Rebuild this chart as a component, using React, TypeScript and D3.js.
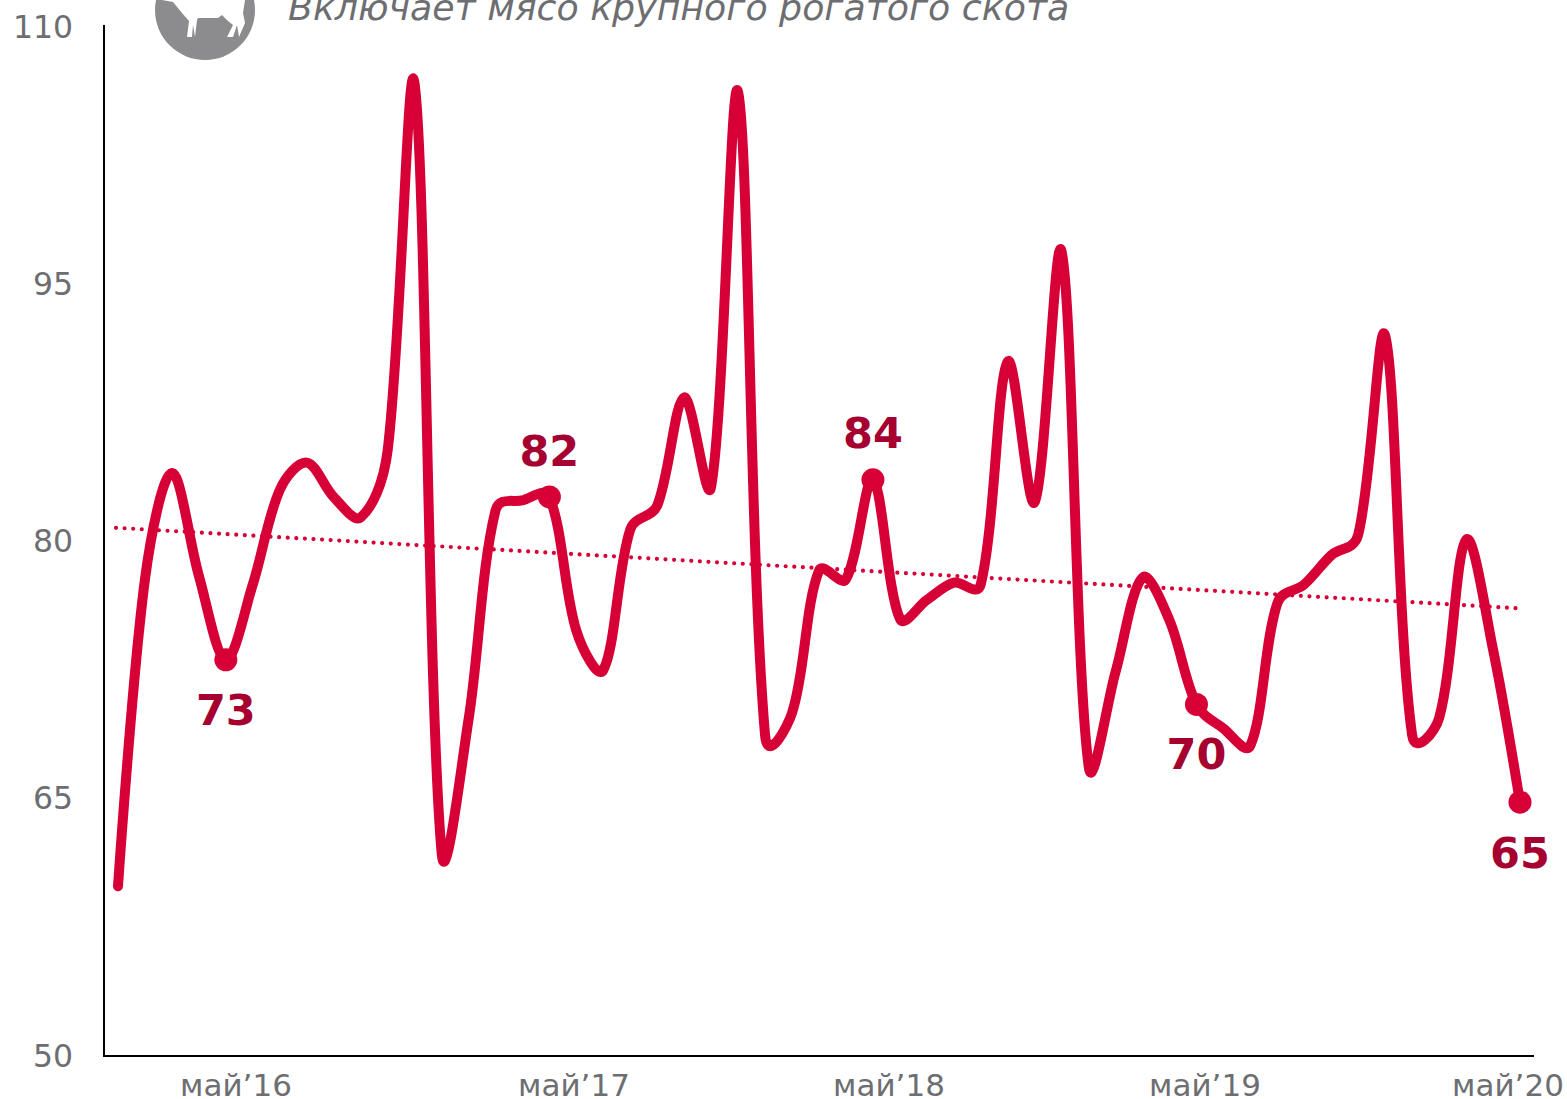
import React from 'react';
import * as d3 from 'd3';

// --- DATA ---
// monthly values, Jan 2016 .. May 2020
const values = [
  59.9, 77.8, 84, 78, 73.1, 77.5, 83, 84.6, 82.6, 81.4, 85.3, 106.7,
  61.9, 69.6, 81.8, 82.4, 82.6, 74.8, 72.5, 80.7, 82.1, 88.4, 83.2, 106.2,
  68.7, 70, 78.3, 77.8, 83.6, 75.5, 76.6, 77.6, 77.5, 90.5, 82.3, 96.9,
  66.9, 72.4, 77.9, 75.4, 70.5, 69.1, 68.1, 76.4, 77.5, 79.2, 80.4, 92,
  68.7, 69.7, 80.1, 73.7, 64.8,
];
const trendValues = [80.8, 76.1];
const yTicks = [50, 65, 80, 95, 110];
const xTicks = [
  { label: 'май’16', x: 236 },
  { label: 'май’17', x: 574 },
  { label: 'май’18', x: 889 },
  { label: 'май’19', x: 1205 },
  { label: 'май’20', x: 1508 },
];
const callouts = [
  { month: 4, label: '73', dy: 65 },
  { month: 16, label: '82', dy: -31 },
  { month: 28, label: '84', dy: -32 },
  { month: 40, label: '70', dy: 65 },
  { month: 52, label: '65', dy: 66 },
];
const subtitle = 'Включает мясо крупного рогатого скота';

const RED = '#d70036';
const DARK_RED = '#a50030';
const GREY = '#6d6e71';
const FONT = '"DejaVu Sans", sans-serif';

const x = d3.scaleLinear().domain([0, values.length - 1]).range([118, 1520]);
const y = d3.scaleLinear().domain([50, 110]).range([1056, 27]);

// Spreadsheet-style smoothing: tangent follows the neighbours, handle length follows the chord
function smoothPath(points: [number, number][]) {
  const path = d3.path();
  const dist = (a: [number, number], b: [number, number]) => Math.hypot(a[0] - b[0], a[1] - b[1]);
  const handle = (i: number, side: 1 | -1): [number, number] => {
    const p = points[i];
    const prev = points[i - 1];
    const next = points[i + 1];
    if (!prev || !next) return p;
    const dPrev = dist(prev, p);
    const dNext = dist(p, next);
    const ratio = (side === 1 ? dNext : dPrev) / (dPrev + dNext);
    const k = (0.8 * ratio + 0.1) / 3;
    return [p[0] + side * k * (next[0] - prev[0]), p[1] + side * k * (next[1] - prev[1])];
  };
  path.moveTo(points[0][0], points[0][1]);
  for (let i = 0; i < points.length - 1; i++) {
    const a = handle(i, 1);
    const b = handle(i + 1, -1);
    path.bezierCurveTo(a[0], a[1], b[0], b[1], points[i + 1][0], points[i + 1][1]);
  }
  return path.toString();
}

const linePath = smoothPath(values.map((v, i) => [x(i), y(v)] as [number, number]));

export default function App() {
  return (
    <svg
      width={1567}
      height={1099}
      style={{ position: 'absolute', left: 0, top: 0, background: '#fff' }}
      fontFamily={FONT}
    >
      {/* icon, cut off by the top edge */}
      <circle cx={205} cy={10} r={50} fill="#8c8c8e" />
      <path
        d="M162,0 L173,2 L182,13 L189,21 L187,37 L192,37 L193,25 L195,37 L197,20 L198,18 L218,18 L222,15 L228,21 L233,25 L227,37 L233,37 L237,25 L239,37 L245,23 L243,13 L245,0 Z"
        fill="#fff"
      />
      <text x={288} y={20} fontSize={36.3} fontStyle="italic" fill={GREY}>{subtitle}</text>

      {/* axes */}
      <line x1={104} x2={104} y1={25} y2={1056} stroke="#000" strokeWidth={2} />
      <line x1={103} x2={1534} y1={1056} y2={1056} stroke="#000" strokeWidth={2} />
      {yTicks.map(t => (
        <text key={t} x={73} y={y(t) + 10.5} fontSize={31.5} textAnchor="end" fill={GREY}>{t}</text>
      ))}
      {xTicks.map(t => (
        <text key={t.label} x={t.x} y={1096} fontSize={31} textAnchor="middle" fill={GREY}>{t.label}</text>
      ))}

      {/* trend */}
      <line
        x1={x(0) - 2}
        x2={1520}
        y1={y(trendValues[0])}
        y2={y(trendValues[1])}
        stroke={RED}
        strokeWidth={4.2}
        strokeLinecap="round"
        strokeDasharray="0 8.6"
      />

      {/* series */}
      <path d={linePath} fill="none" stroke={RED} strokeWidth={10} strokeLinejoin="round" strokeLinecap="round" />
      {callouts.map(c => (
        <g key={c.label}>
          <circle cx={x(c.month)} cy={y(values[c.month])} r={11.5} fill={RED} />
          <text
            x={x(c.month)}
            y={y(values[c.month]) + c.dy}
            fontSize={43}
            fontWeight="bold"
            textAnchor="middle"
            fill={DARK_RED}
          >
            {c.label}
          </text>
        </g>
      ))}
    </svg>
  );
}
